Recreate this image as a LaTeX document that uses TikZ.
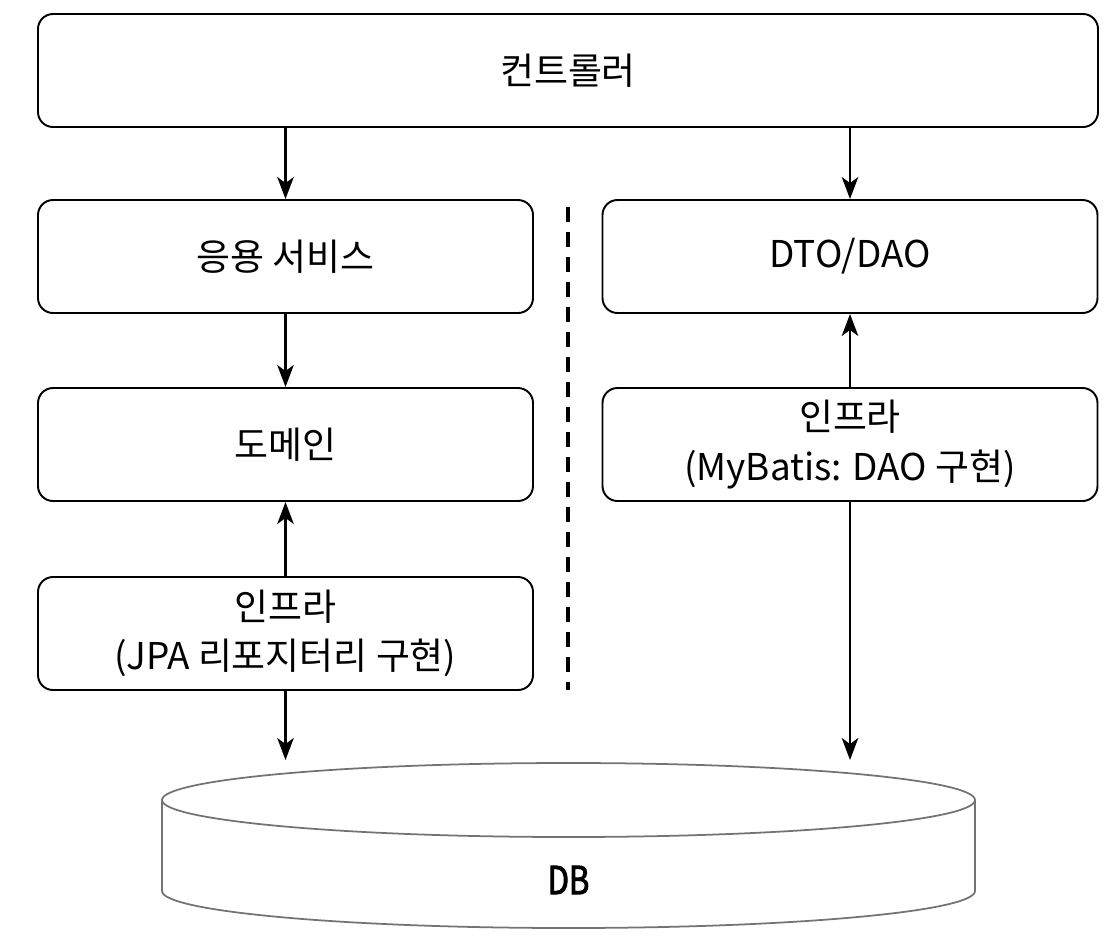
\documentclass[tikz,border=0pt]{standalone}
\usepackage{fontspec}
\setmainfont{Noto Sans CJK KR}
\newfontfamily\dbfont[FakeStretch=0.8, FakeBold=2.5]{Noto Sans CJK KR}
\usepackage{tikz}
\usetikzlibrary{positioning, shapes, arrows.meta}

\begin{document}
\begin{tikzpicture}[
    layerbox/.style={draw, rounded corners=0.3cm, line width=1.1pt, minimum width=9.9cm, minimum height=2.26cm, align=center, font=\fontsize{21}{28}\selectfont},
    flow/.style={-{Stealth[length=4.4mm, width=3.3mm, inset=1.2mm]}, line width=1.3pt},
    dbline/.style={draw=black!55, line width=1pt}
]
                \useasboundingbox (0,0) rectangle (22.32,-18.76);
                \node[layerbox, minimum width=21.2cm] (ctrl) at (11.36,-1.41) {컨트롤러};
                \node[layerbox] (svc) at (5.71,-5.13) {응용 서비스};
                \node[layerbox] (dto) at (17.0,-5.13) {DTO/DAO};
                \node[layerbox] (domain) at (5.71,-8.89) {도메인};
                \node[layerbox] (infraR) at (17.0,-8.89) {인프라\\(MyBatis: DAO 구현)};
                \node[layerbox] (infraL) at (5.71,-12.67) {인프라\\(JPA 리포지터리 구현)};
                % DB
                \coordinate (dbtop) at (11.37,-16.0);
                \coordinate (dbin) at (11.37,-15.2);
                \draw[dbline] (dbtop) ellipse (8.13 and 0.74);
                \draw[dbline] ([xshift=-8.13cm]dbtop) -- ++(0,-1.82) arc (180:360:8.13 and 0.74) -- ([xshift=8.13cm]dbtop);
                \node[font=\dbfont\fontsize{22}{24}\selectfont] (db) at (11.37,-17.6) {DB};
                \draw[line width=1.8pt, dash pattern=on 0.3cm off 0.2cm] (11.36,-4.14) -- (11.36,-13.8);
                \draw[flow] (svc.north |- ctrl.south) -- (svc.north);
                \draw[flow] (dto.north |- ctrl.south) -- (dto.north);
                \draw[flow] (svc) -- (domain);
                \draw[flow] (infraL) -- (domain);
                \draw[flow] (infraR) -- (dto);
                \draw[flow] (infraL.south) -- (infraL.south |- dbin);
                \draw[flow] (infraR.south) -- (infraR.south |- dbin);
            \end{tikzpicture}
\end{document}
